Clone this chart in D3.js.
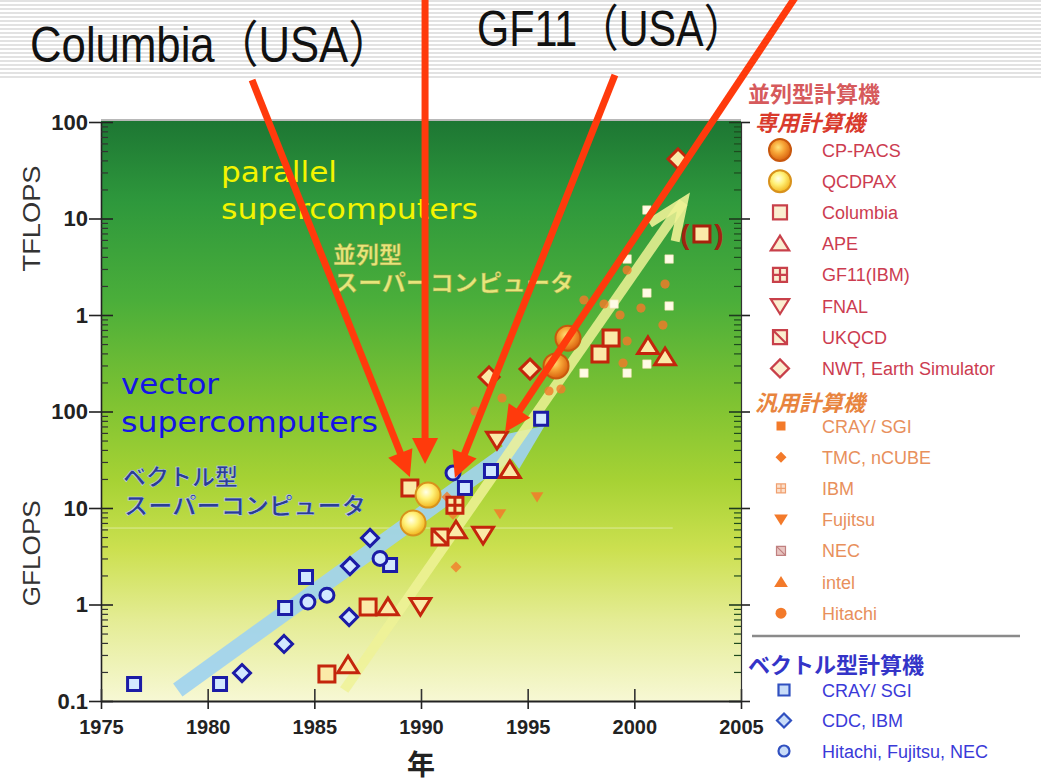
<!DOCTYPE html>
<html><head><meta charset="utf-8">
<script src="https://cdn.jsdelivr.net/npm/d3@7/dist/d3.min.js"></script>
<style>
html,body{margin:0;padding:0;background:#fff;}
svg{display:block;}
</style></head>
<body>
<svg id="chart" width="1041" height="783"></svg>
<script>
// ---------------- DATA ----------------
const yearTicks = [1975, 1980, 1985, 1990, 1995, 2000, 2005];
const yTickValues = [0.1, 1, 10, 100, 1000, 10000, 100000];   // GFLOPS
const yTickLabels = ["0.1", "1", "10", "100", "1", "10", "100"];

// vector supercomputers  [year, GFLOPS]
const vecCray  = [[1976.55,0.15],[1980.58,0.15],[1983.63,0.92],[1984.61,1.93],[1988.55,2.57],[1992.06,16.1],[1993.28,24.2],[1995.63,84]];
const vecCdc   = [[1981.61,0.195],[1983.58,0.39],[1986.63,0.74],[1986.67,2.5],[1987.61,4.9]];
const vecJapan = [[1984.70,1.06],[1985.59,1.25],[1988.08,3.0],[1991.5,23]];

// dedicated parallel machines
const cppacs   = [[1996.33,297],[1996.89,575]];
const qcdpax   = [[1989.63,7.0],[1990.33,13.6]];
const columbia = [[1985.59,0.19],[1987.52,0.94],[1989.48,16.1],[1998.39,395],[1998.91,578]];
const columbiaPlanned = [[2003.17,6900]];
const ape      = [[1986.58,0.236],[1988.45,0.94],[1991.64,5.9],[1994.17,24.8],[2000.64,478],[2001.44,367]];
const gf11     = [[1991.59,10.7]];
const fnal     = [[1989.97,0.96],[1992.91,5.25],[1993.56,50.7]];
const ukqcd    = [[1990.89,5.0]];
const nwt      = [[1993.19,228],[1995.11,275],[2002.05,41400]];

// general-purpose parallel machines
const genFujitsu = [[1993.70,8.7],[1995.44,13]];
const genTmc     = [[1991.22,13],[1991.5,8.6],[1991.64,2.45]];
const genHitachi = [[1992.53,101],[1993.80,138],[1996.0,163],[1996.56,171],[1997.64,1430],[1998.58,1300],[1999.33,1000],[2000.31,1180],[2001.44,2090],[2001.34,787],[1999.66,538],[1999.47,318],[1999.66,2920]];
const genIbm     = [[2000.59,12250],[1999.66,3800],[2001.63,3800],[2000.59,1690],[2001.63,1240],[1999.05,1300],[1997.64,250],[1999.66,250],[2000.59,310]];

// trend arrows [year, GFLOPS]
const vectorTrend   = [[1978.6,0.13],[1995.8,71]];
const parallelTrend = [[1986.4,0.13],[2002.3,14800]];

// red call-out arrows  [year, GFLOPS]
const callouts = [
  {from:[1982.08,2.72e5], to:[1989.48,20.9]},
  {from:[1990.19,2.1e6],  to:[1990.19,28.6]},
  {from:[1999.09,3.07e5], to:[1991.59,20.5]},
  {from:[2007.77,2.33e6], to:[1993.94,61]}
];

const legendParallel = ["CP-PACS","QCDPAX","Columbia","APE","GF11(IBM)","FNAL","UKQCD","NWT, Earth Simulator"];
const legendGeneral  = ["CRAY/ SGI","TMC, nCUBE","IBM","Fujitsu","NEC","intel","Hitachi"];
const legendVector   = ["CRAY/ SGI","CDC, IBM","Hitachi, Fujitsu, NEC"];

// ---------------- DRAW ----------------
const W = 1041, H = 783;
const svg = d3.select('#chart');
const x = d3.scaleLinear().domain([1975, 2005]).range([101, 741]);
const y = d3.scaleLog().domain([0.1, 1e5]).range([701, 122]);
const defs = svg.append('defs');

// striped slide background at the top
const pat = defs.append('pattern').attr('id','stripes').attr('width',8).attr('height',4).attr('patternUnits','userSpaceOnUse');
pat.append('rect').attr('width',8).attr('height',2).attr('fill','#e2e2e2');
svg.append('rect').attr('x',0).attr('y',0).attr('width',W).attr('height',80).attr('fill','url(#stripes)');

// plot background gradient
const lg = defs.append('linearGradient').attr('id','bg').attr('x1',0).attr('y1',0).attr('x2',0).attr('y2',1);
[[0,'#1d7633'],[0.14,'#2e983c'],[0.31,'#4aae3a'],[0.48,'#7dc232'],[0.62,'#a6d234'],[0.74,'#cce050'],[0.86,'#e4ec94'],[1,'#f7f8d4']]
  .forEach(s => lg.append('stop').attr('offset',s[0]).attr('stop-color',s[1]));
svg.append('rect').attr('x',x(1975)).attr('y',y(1e5)-2).attr('width',x(2005)-x(1975)).attr('height',y(0.1)-y(1e5)+2).attr('fill','url(#bg)');
svg.append('line').attr('x1',x(1975)).attr('x2',x(2005)).attr('y1',y(1e5)-2).attr('y2',y(1e5)-2).attr('stroke','#b8b8b8').attr('stroke-width',2);
// faint scan artefact line
svg.append('line').attr('x1',x(1975)).attr('x2',x(2001.8)).attr('y1',y(6.2)).attr('y2',y(6.2)).attr('stroke','#ffffff').attr('stroke-opacity',0.45).attr('stroke-width',1);

// gradients for big circles
const rg1 = defs.append('radialGradient').attr('id','cpg').attr('cx','42%').attr('cy','38%').attr('r','62%');
[[0,'#ffe27a'],[0.45,'#f7a436'],[1,'#d9620f']].forEach(s=>rg1.append('stop').attr('offset',s[0]).attr('stop-color',s[1]));
const rg2 = defs.append('radialGradient').attr('id','qcg').attr('cx','42%').attr('cy','38%').attr('r','62%');
[[0,'#ffffe8'],[0.45,'#fff27a'],[1,'#f2b61e']].forEach(s=>rg2.append('stop').attr('offset',s[0]).attr('stop-color',s[1]));

// ---- trend arrows ----
function px(d){ return [x(d[0]), y(d[1])]; }
{
  const a = px(vectorTrend[0]), b = px(vectorTrend[1]);
  const ang = Math.atan2(b[1]-a[1], b[0]-a[0]);
  const hl = 46, hw = 20;
  const base = [b[0]-hl*Math.cos(ang), b[1]-hl*Math.sin(ang)];
  svg.append('line').attr('x1',a[0]).attr('y1',a[1]).attr('x2',base[0]+2*Math.cos(ang)).attr('y2',base[1]+2*Math.sin(ang))
    .attr('stroke','#9fd3ef').attr('stroke-width',16).attr('stroke-opacity',0.92);
  const p1=[base[0]+hw*Math.sin(ang), base[1]-hw*Math.cos(ang)], p2=[base[0]-hw*Math.sin(ang), base[1]+hw*Math.cos(ang)];
  svg.append('path').attr('d',`M${b[0]},${b[1]}L${p1[0]},${p1[1]}L${p2[0]},${p2[1]}Z`).attr('fill','#9fd3ef').attr('fill-opacity',0.92);
}
{
  const a = px(parallelTrend[0]), b = px(parallelTrend[1]);
  const ang = Math.atan2(a[1]-b[1], a[0]-b[0]);
  svg.append('line').attr('x1',a[0]).attr('y1',a[1]).attr('x2',b[0]).attr('y2',b[1])
    .attr('stroke','#eef296').attr('stroke-width',10).attr('stroke-opacity',0.85);
  const L=40, da=0.40;
  const w1=[b[0]+L*Math.cos(ang+da), b[1]+L*Math.sin(ang+da)], w2=[b[0]+L*Math.cos(ang-da), b[1]+L*Math.sin(ang-da)];
  svg.append('path').attr('d',`M${w1[0]},${w1[1]}L${b[0]},${b[1]}L${w2[0]},${w2[1]}`)
    .attr('fill','none').attr('stroke','#eef296').attr('stroke-width',9).attr('stroke-linejoin','miter').attr('stroke-opacity',0.9);
}

// ---- marker shapes ----
function shape(type, s){
  switch(type){
    case 'square':  return `M${-s},${-s}H${s}V${s}H${-s}Z`;
    case 'cross':   return `M${-s},${-s}H${s}V${s}H${-s}ZM0,${-s}V${s}M${-s},0H${s}`;
    case 'diag':    return `M${-s},${-s}H${s}V${s}H${-s}ZM${-s},${-s}L${s},${s}`;
    case 'diamond': return `M0,${-s}L${s},0L0,${s}L${-s},0Z`;
    case 'up':      return `M0,${-s}L${s*1.15},${s*0.85}L${-s*1.15},${s*0.85}Z`;
    case 'down':    return `M0,${s}L${s*1.15},${-s*0.85}L${-s*1.15},${-s*0.85}Z`;
    case 'circle':  return `M${s},0A${s},${s} 0 1,1 ${-s},0A${s},${s} 0 1,1 ${s},0Z`;
  }
}
function markers(data, type, s, fill, stroke, sw, op){
  svg.append('g').selectAll('path').data(data).join('path')
    .attr('transform', d => `translate(${x(d[0])},${y(d[1])})`)
    .attr('d', shape(type, s))
    .attr('fill', fill).attr('stroke', stroke).attr('stroke-width', sw)
    .attr('opacity', op == null ? 1 : op).attr('stroke-linejoin','miter');
}

const ORANGE = '#f37a2a';
// general purpose
markers(genIbm, 'square', 4.2, '#fffbe6', '#f3e0b0', 0.6);
markers(genHitachi, 'circle', 4.6, ORANGE, 'none', 0, 0.82);
markers(genTmc, 'diamond', 5.5, ORANGE, 'none', 0, 0.8);
markers(genFujitsu, 'down', 5.5, ORANGE, 'none', 0, 0.85);

// vector
const BLUE = '#1b1ba6', BFILL = '#d2e8ff';
markers(vecCray, 'square', 6.5, BFILL, BLUE, 3);
markers(vecCdc, 'diamond', 8.5, BFILL, BLUE, 3);
markers(vecJapan, 'circle', 7, BFILL, BLUE, 3);

// dedicated parallel
const RED = '#c4250c', RFILL = '#fbeaa8';
markers(columbia, 'square', 8, RFILL, RED, 3);
markers(columbiaPlanned, 'square', 8, RFILL, '#a8200c', 3);
markers(ape, 'up', 9, RFILL, RED, 3);
markers(gf11, 'cross', 8, RFILL, RED, 3);
markers(fnal, 'down', 9, RFILL, RED, 3);
markers(ukqcd, 'diag', 8, RFILL, RED, 3);
markers(nwt, 'diamond', 10, RFILL, RED, 3);
markers(cppacs, 'circle', 12.5, 'url(#cpg)', '#c8580e', 2);
markers(qcdpax, 'circle', 12.5, 'url(#qcg)', '#d8921c', 2);
// parentheses around planned Columbia machine
[['(',-17],[')',17]].forEach(p => {
  svg.append('g').selectAll('text').data(columbiaPlanned).join('text')
    .attr('x', d => x(d[0]) + p[1]).attr('y', d => y(d[1]) + 10)
    .attr('text-anchor','middle').attr('font-family','Liberation Sans, Arial, sans-serif')
    .attr('font-weight','bold').attr('font-size',28).attr('fill','#a02410').text(p[0]);
});

// ---- axes ----
const axFont = 'Liberation Sans, Arial, sans-serif';
function minorValues(){
  const v = [];
  for (let e = -1; e < 5; e++) for (let m = 2; m <= 9; m++) v.push(m * Math.pow(10, e));
  return v;
}
// left axis
const gL = svg.append('g').attr('transform', `translate(${x(1975)},0)`)
  .call(d3.axisLeft(y).tickValues(yTickValues).tickFormat((d,i) => yTickLabels[i]).tickSize(12).tickSizeOuter(0).tickPadding(1));
gL.selectAll('text').attr('font-size',22).attr('font-weight','bold').attr('font-family',axFont).attr('fill','#222');
gL.selectAll('line').attr('stroke','#222').attr('stroke-width',1.6);
gL.select('.domain').attr('stroke','#222').attr('stroke-width',1.6);
svg.append('g').attr('transform', `translate(${x(1975)},0)`)
  .call(d3.axisRight(y).tickValues(minorValues()).tickFormat('').tickSize(7).tickSizeOuter(0))
  .call(g => { g.select('.domain').remove(); g.selectAll('line').attr('stroke','#333').attr('stroke-width',1.2); });
svg.append('g').attr('transform', `translate(${x(1975)},0)`)
  .call(d3.axisRight(y).tickValues(yTickValues).tickFormat('').tickSize(12).tickSizeOuter(0))
  .call(g => { g.select('.domain').remove(); g.selectAll('line').attr('stroke','#222').attr('stroke-width',1.6); });
// right axis
svg.append('g').attr('transform', `translate(${x(2005)},0)`)
  .call(d3.axisLeft(y).tickValues(minorValues()).tickFormat('').tickSize(7).tickSizeOuter(0))
  .call(g => { g.select('.domain').attr('stroke','#333').attr('stroke-width',1.2); g.selectAll('line').attr('stroke','#1e4a1e').attr('stroke-width',1.2); });
svg.append('g').attr('transform', `translate(${x(2005)},0)`)
  .call(d3.axisRight(y).tickValues(yTickValues).tickFormat('').tickSize(9).tickSizeOuter(0))
  .call(g => { g.select('.domain').remove(); g.selectAll('line').attr('stroke','#222').attr('stroke-width',1.6); });
svg.append('g').attr('transform', `translate(${x(2005)},0)`)
  .call(d3.axisLeft(y).tickValues(yTickValues).tickFormat('').tickSize(12).tickSizeOuter(0))
  .call(g => { g.select('.domain').remove(); g.selectAll('line').attr('stroke','#1e3a1e').attr('stroke-width',1.6); });
// bottom axis
const gB = svg.append('g').attr('transform', `translate(0,${y(0.1)})`)
  .call(d3.axisBottom(x).tickValues(yearTicks).tickFormat(d3.format('d')).tickSize(8).tickSizeOuter(0).tickPadding(11));
gB.selectAll('text').attr('font-size',20).attr('font-weight','bold').attr('font-family',axFont).attr('fill','#222');
gB.selectAll('line').attr('stroke','#222').attr('stroke-width',1.6);
gB.select('.domain').attr('stroke','#222').attr('stroke-width',1.8);
svg.append('g').attr('transform', `translate(0,${y(0.1)})`)
  .call(d3.axisTop(x).tickValues(yearTicks).tickFormat('').tickSize(12).tickSizeOuter(0))
  .call(g => { g.select('.domain').remove(); g.selectAll('line').attr('stroke','#333').attr('stroke-width',1.6); });

// axis titles
svg.append('text').attr('transform',`translate(40,${(y(1e5)+y(1e3))/2}) rotate(-90)`).attr('text-anchor','middle')
  .attr('font-family',axFont).attr('font-size',23).attr('fill','#333').attr('textLength',106).attr('lengthAdjust','spacingAndGlyphs').text('TFLOPS');
svg.append('text').attr('transform',`translate(40,${(y(10)+y(1))/2 - 3}) rotate(-90)`).attr('text-anchor','middle')
  .attr('font-family',axFont).attr('font-size',23).attr('fill','#333').attr('textLength',106).attr('lengthAdjust','spacingAndGlyphs').text('GFLOPS');
svg.append('text').attr('x',(x(1975)+x(2005))/2).attr('y',775).attr('text-anchor','middle')
  .attr('font-family','Noto Sans CJK JP, sans-serif').attr('font-weight','bold').attr('font-size',28).attr('fill','#222').text('年');

// ---- in-plot labels ----
const jp = 'Noto Sans CJK JP, sans-serif';
svg.append('text').attr('x',221).attr('y',182).attr('font-family','DejaVu Sans, Verdana, sans-serif').attr('font-size',29).attr('fill','#f4f400')
  .attr('textLength',116).attr('lengthAdjust','spacingAndGlyphs').text('parallel');
svg.append('text').attr('x',221).attr('y',219).attr('font-family','DejaVu Sans, Verdana, sans-serif').attr('font-size',29).attr('fill','#f4f400')
  .attr('textLength',257).attr('lengthAdjust','spacingAndGlyphs').text('supercomputers');
svg.append('text').attr('x',121).attr('y',394).attr('font-family','DejaVu Sans, Verdana, sans-serif').attr('font-size',29).attr('fill','#1414e6')
  .attr('textLength',98).attr('lengthAdjust','spacingAndGlyphs').text('vector');
svg.append('text').attr('x',121).attr('y',432).attr('font-family','DejaVu Sans, Verdana, sans-serif').attr('font-size',29).attr('fill','#1414e6')
  .attr('textLength',257).attr('lengthAdjust','spacingAndGlyphs').text('supercomputers');

// two-line Japanese labels (one text element each, two tspans)
function twoLine(xp, y1, y2, l1, l2, len2, fill, stroke, sw){
  const t = svg.append('text').attr('font-family',jp).attr('font-weight','bold').attr('font-size',23)
    .attr('fill',fill).attr('stroke',stroke).attr('stroke-width',sw);
  t.append('tspan').attr('x',xp).attr('y',y1).text(l1);
  t.append('tspan').attr('x',xp+1).attr('y',y2).attr('textLength',len2).attr('lengthAdjust','spacingAndGlyphs').text(l2);
}
twoLine(333, 263, 291, '並列型', 'スーパーコンピュータ', 240, '#e6e67a', '#9a9a40', 0.4);
twoLine(123, 485, 514, 'ベクトル型', 'スーパーコンピュータ', 242, '#2b3d94', '#c8d8ff', 0.5);

// ---- top titles ----
svg.append('text').attr('x',30).attr('y',62).attr('font-family','Liberation Sans, Arial, Noto Sans CJK JP, sans-serif').attr('font-size',50).attr('fill','#111')
  .attr('textLength',362).attr('lengthAdjust','spacingAndGlyphs').text('Columbia（USA）');
svg.append('text').attr('x',477).attr('y',46).attr('font-family','Liberation Sans, Arial, Noto Sans CJK JP, sans-serif').attr('font-size',50).attr('fill','#111')
  .attr('textLength',268).attr('lengthAdjust','spacingAndGlyphs').text('GF11（USA）');

// ---- red call-out arrows ----
const CALL = '#ff3a0c';
callouts.forEach(c => {
  const a = px(c.from), b = px(c.to);
  const ang = Math.atan2(b[1]-a[1], b[0]-a[0]);
  const hl = 26, hw = 13;
  const base = [b[0]-hl*Math.cos(ang), b[1]-hl*Math.sin(ang)];
  svg.append('line').attr('x1',a[0]).attr('y1',a[1]).attr('x2',base[0]+2*Math.cos(ang)).attr('y2',base[1]+2*Math.sin(ang))
    .attr('stroke',CALL).attr('stroke-width',7);
  const p1=[base[0]+hw*Math.sin(ang), base[1]-hw*Math.cos(ang)], p2=[base[0]-hw*Math.sin(ang), base[1]+hw*Math.cos(ang)];
  svg.append('path').attr('d',`M${b[0]},${b[1]}L${p1[0]},${p1[1]}L${p2[0]},${p2[1]}Z`).attr('fill',CALL);
});

// ---- legend ----
const lf = 'Liberation Sans, Arial, sans-serif';
const lg2 = svg.append('g');
lg2.append('text').attr('x',748).attr('y',102).attr('font-family',jp).attr('font-weight','bold').attr('font-size',22).attr('fill','#d65a5c').text('並列型計算機');
lg2.append('text').attr('x',755).attr('y',131).attr('font-family',jp).attr('font-weight','bold').attr('font-style','italic').attr('font-size',22).attr('fill','#d93a2c').text('専用計算機');
lg2.append('text').attr('x',755).attr('y',411).attr('font-family',jp).attr('font-weight','bold').attr('font-style','italic').attr('font-size',22).attr('fill','#e8843e').text('汎用計算機');
lg2.append('line').attr('x1',752).attr('x2',1020).attr('y1',636).attr('y2',636).attr('stroke','#8a8a8a').attr('stroke-width',2.5);
lg2.append('text').attr('x',748).attr('y',673).attr('font-family',jp).attr('font-weight','bold').attr('font-size',22).attr('fill','#3434c8').text('ベクトル型計算機');

const parShapes = [['circle',11,'url(#cpg)','#c8580e',2],['circle',11,'url(#qcg)','#d8921c',2],['square',7,'#fbeed0','#c8404a',2.2],['up',8,'#fbeed0','#c8404a',2.2],
  ['cross',7,'#fbeed0','#c8404a',2.2],['down',8,'#fbeed0','#c8404a',2.2],['diag',7,'#fbeed0','#c8404a',2.2],['diamond',9,'#fbeed0','#c8404a',2.2]];
legendParallel.forEach((t,i) => {
  const cy = 150 + i*31.2;
  const s = parShapes[i];
  lg2.append('path').attr('transform',`translate(780,${cy})`).attr('d',shape(s[0],s[1])).attr('fill',s[2]).attr('stroke',s[3]).attr('stroke-width',s[4]);
  lg2.append('text').attr('x',822).attr('y',cy+6.5).attr('font-family',lf).attr('font-size',18).attr('fill','#cc3c50').text(t);
});
const genShapes = [['square',4.5,ORANGE,'none',0],['diamond',5.5,ORANGE,'none',0],['cross',4.5,'#fbe0cc','#f0a070',1.2],['down',6,ORANGE,'none',0],
  ['diag',4.5,'#e8c4c0','#c08080',1.2],['up',6,ORANGE,'none',0],['circle',5.5,ORANGE,'none',0]];
legendGeneral.forEach((t,i) => {
  const cy = 426 + i*31.2;
  const s = genShapes[i];
  lg2.append('path').attr('transform',`translate(781,${cy})`).attr('d',shape(s[0],s[1])).attr('fill',s[2]).attr('stroke',s[3]).attr('stroke-width',s[4]);
  lg2.append('text').attr('x',822).attr('y',cy+6.5).attr('font-family',lf).attr('font-size',18).attr('fill','#e8905c').text(t);
});
const vecShapes = [['square',5.5],['diamond',7],['circle',5.5]];
legendVector.forEach((t,i) => {
  const cy = 690 + i*30.5;
  const s = vecShapes[i];
  lg2.append('path').attr('transform',`translate(784,${cy})`).attr('d',shape(s[0],s[1])).attr('fill','#c8dcf8').attr('stroke','#3050c0').attr('stroke-width',2.2);
  lg2.append('text').attr('x',822).attr('y',cy+6.5).attr('font-family',lf).attr('font-size',18).attr('fill','#3a3ad8').text(t);
});
</script>
</body></html>
